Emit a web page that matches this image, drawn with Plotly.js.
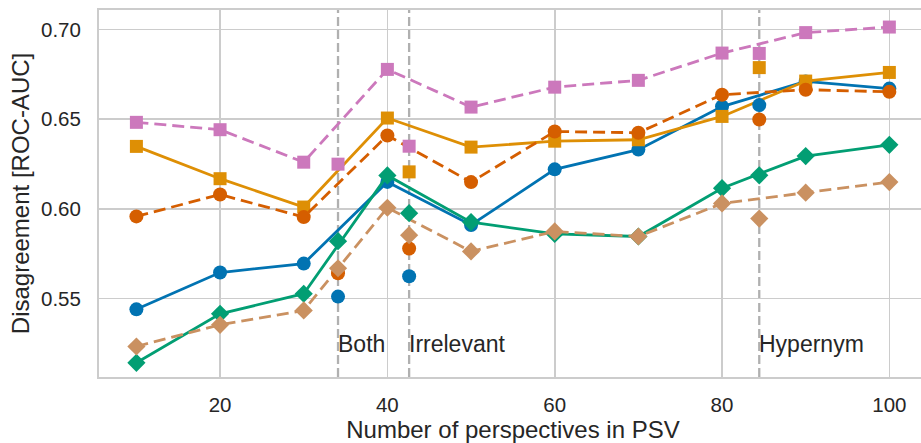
<!DOCTYPE html>
<html>
<head>
<meta charset="utf-8">
<script src="https://cdn.plot.ly/plotly-3.0.1.min.js"></script>
<style>
html, body { margin: 0; padding: 0; overflow: hidden; background: #ffffff; }
#chart { width: 930px; height: 443px; }
</style>
</head>
<body>
<div id="chart"></div>
<script>
// Number of perspectives in PSV
const perspectives = [10, 20, 30, 40, 50, 60, 70, 80, 90, 100];

// Six series (colorblind palette order)
const seriesBlue   = [0.544, 0.5645, 0.5695, 0.615, 0.591, 0.622, 0.633, 0.657, 0.671, 0.667];
const seriesOrange = [0.6348, 0.6168, 0.601, 0.6506, 0.6344, 0.6377, 0.6385, 0.6515, 0.6712, 0.676];
const seriesGreen  = [0.5142, 0.5415, 0.5527, 0.6186, 0.5926, 0.586, 0.5846, 0.6115, 0.6294, 0.6357];
const seriesRed    = [0.5958, 0.608, 0.5954, 0.6409, 0.6149, 0.6431, 0.6424, 0.6636, 0.6664, 0.6652];
const seriesPink   = [0.6482, 0.6441, 0.626, 0.6777, 0.6567, 0.6678, 0.6716, 0.6868, 0.6982, 0.7013];
const seriesTan    = [0.5233, 0.5354, 0.5434, 0.6006, 0.5763, 0.5874, 0.5846, 0.603, 0.609, 0.6149];

// Reference subsets (vertical markers)
const refLabels = ["Both", "Irrelevant", "Hypernym"];
const refX = [34.1, 42.6, 84.45];
const refBlue   = [0.5511, 0.5624, 0.6578];
const refOrange = [null, 0.6206, 0.6787];
const refGreen  = [0.582, 0.5976, 0.6187];
const refRed    = [0.5641, 0.5779, 0.6498];
const refPink   = [0.6249, 0.6349, 0.6866];
const refTan    = [0.5669, 0.5853, 0.5946];

const colors = ['#0173b2', '#de8f05', '#029e73', '#d55e00', '#cc78bc', '#ca9161'];
const symbols = ['circle', 'square', 'diamond', 'circle', 'square', 'diamond'];
const dashes = ['solid', 'solid', 'solid', '12px,6px', '12px,6px', '12px,6px'];
const mainSeries = [seriesBlue, seriesOrange, seriesGreen, seriesRed, seriesPink, seriesTan];
const refSeries = [refBlue, refOrange, refGreen, refRed, refPink, refTan];
const markerSizes = { circle: 14, square: 13, diamond: 14 };

const traces = [];
mainSeries.forEach((ys, i) => {
  traces.push({
    x: perspectives, y: ys, type: 'scatter', mode: 'lines+markers',
    line: { color: colors[i], width: 2.8, dash: dashes[i] },
    marker: { color: colors[i], symbol: symbols[i], size: markerSizes[symbols[i]] },
    showlegend: false, hoverinfo: 'skip'
  });
});
refSeries.forEach((ys, i) => {
  traces.push({
    x: refX, y: ys, type: 'scatter', mode: 'markers',
    marker: { color: colors[i], symbol: symbols[i], size: markerSizes[symbols[i]] },
    showlegend: false, hoverinfo: 'skip'
  });
});

const shapes = refX.map(x => ({
  type: 'line', xref: 'x', yref: 'paper', x0: x, x1: x, y0: 0, y1: 1,
  line: { color: '#b0b0b0', width: 2.3, dash: '9px,4px' }, layer: 'below'
}));

const annotations = refX.map((x, i) => ({
  x: x, y: 0.5249, xref: 'x', yref: 'y', text: refLabels[i],
  showarrow: false, xanchor: 'left', yanchor: 'middle', xshift: -2,
  font: { size: 23, color: '#262626', family: 'Liberation Sans, Arial, sans-serif' }
}));

const font = 'Liberation Sans, Arial, sans-serif';
const layout = {
  width: 930, height: 443,
  margin: { l: 99, r: 3, t: 10, b: 66 },
  paper_bgcolor: '#ffffff', plot_bgcolor: '#ffffff',
  font: { family: font, color: '#262626' },
  xaxis: {
    range: [5.53, 104.5], tickvals: [20, 40, 60, 80, 100],
    showgrid: true, gridcolor: '#cccccc', gridwidth: 1.6, zeroline: false,
    showline: true, mirror: true, linecolor: '#cccccc', linewidth: 2,
    ticks: '', tickfont: { size: 20.5, color: '#262626' }, ticklabelstandoff: 8,
    title: { text: 'Number of perspectives in PSV', font: { size: 24, color: '#262626' }, standoff: 0 }
  },
  yaxis: {
    range: [0.5063, 0.7108], tickvals: [0.55, 0.60, 0.65, 0.70], tickformat: '.2f',
    showgrid: true, gridcolor: '#cccccc', gridwidth: 1.6, zeroline: false,
    showline: true, mirror: true, linecolor: '#cccccc', linewidth: 2,
    ticks: '', tickfont: { size: 20.5, color: '#262626' }, ticklabelstandoff: 12,
    title: { text: 'Disagreement [ROC-AUC]', font: { size: 24, color: '#262626' }, standoff: 5 }
  },
  shapes: shapes,
  annotations: annotations,
  hovermode: false
};

Plotly.newPlot('chart', traces, layout, { staticPlot: true, displayModeBar: false });
</script>
</body>
</html>
